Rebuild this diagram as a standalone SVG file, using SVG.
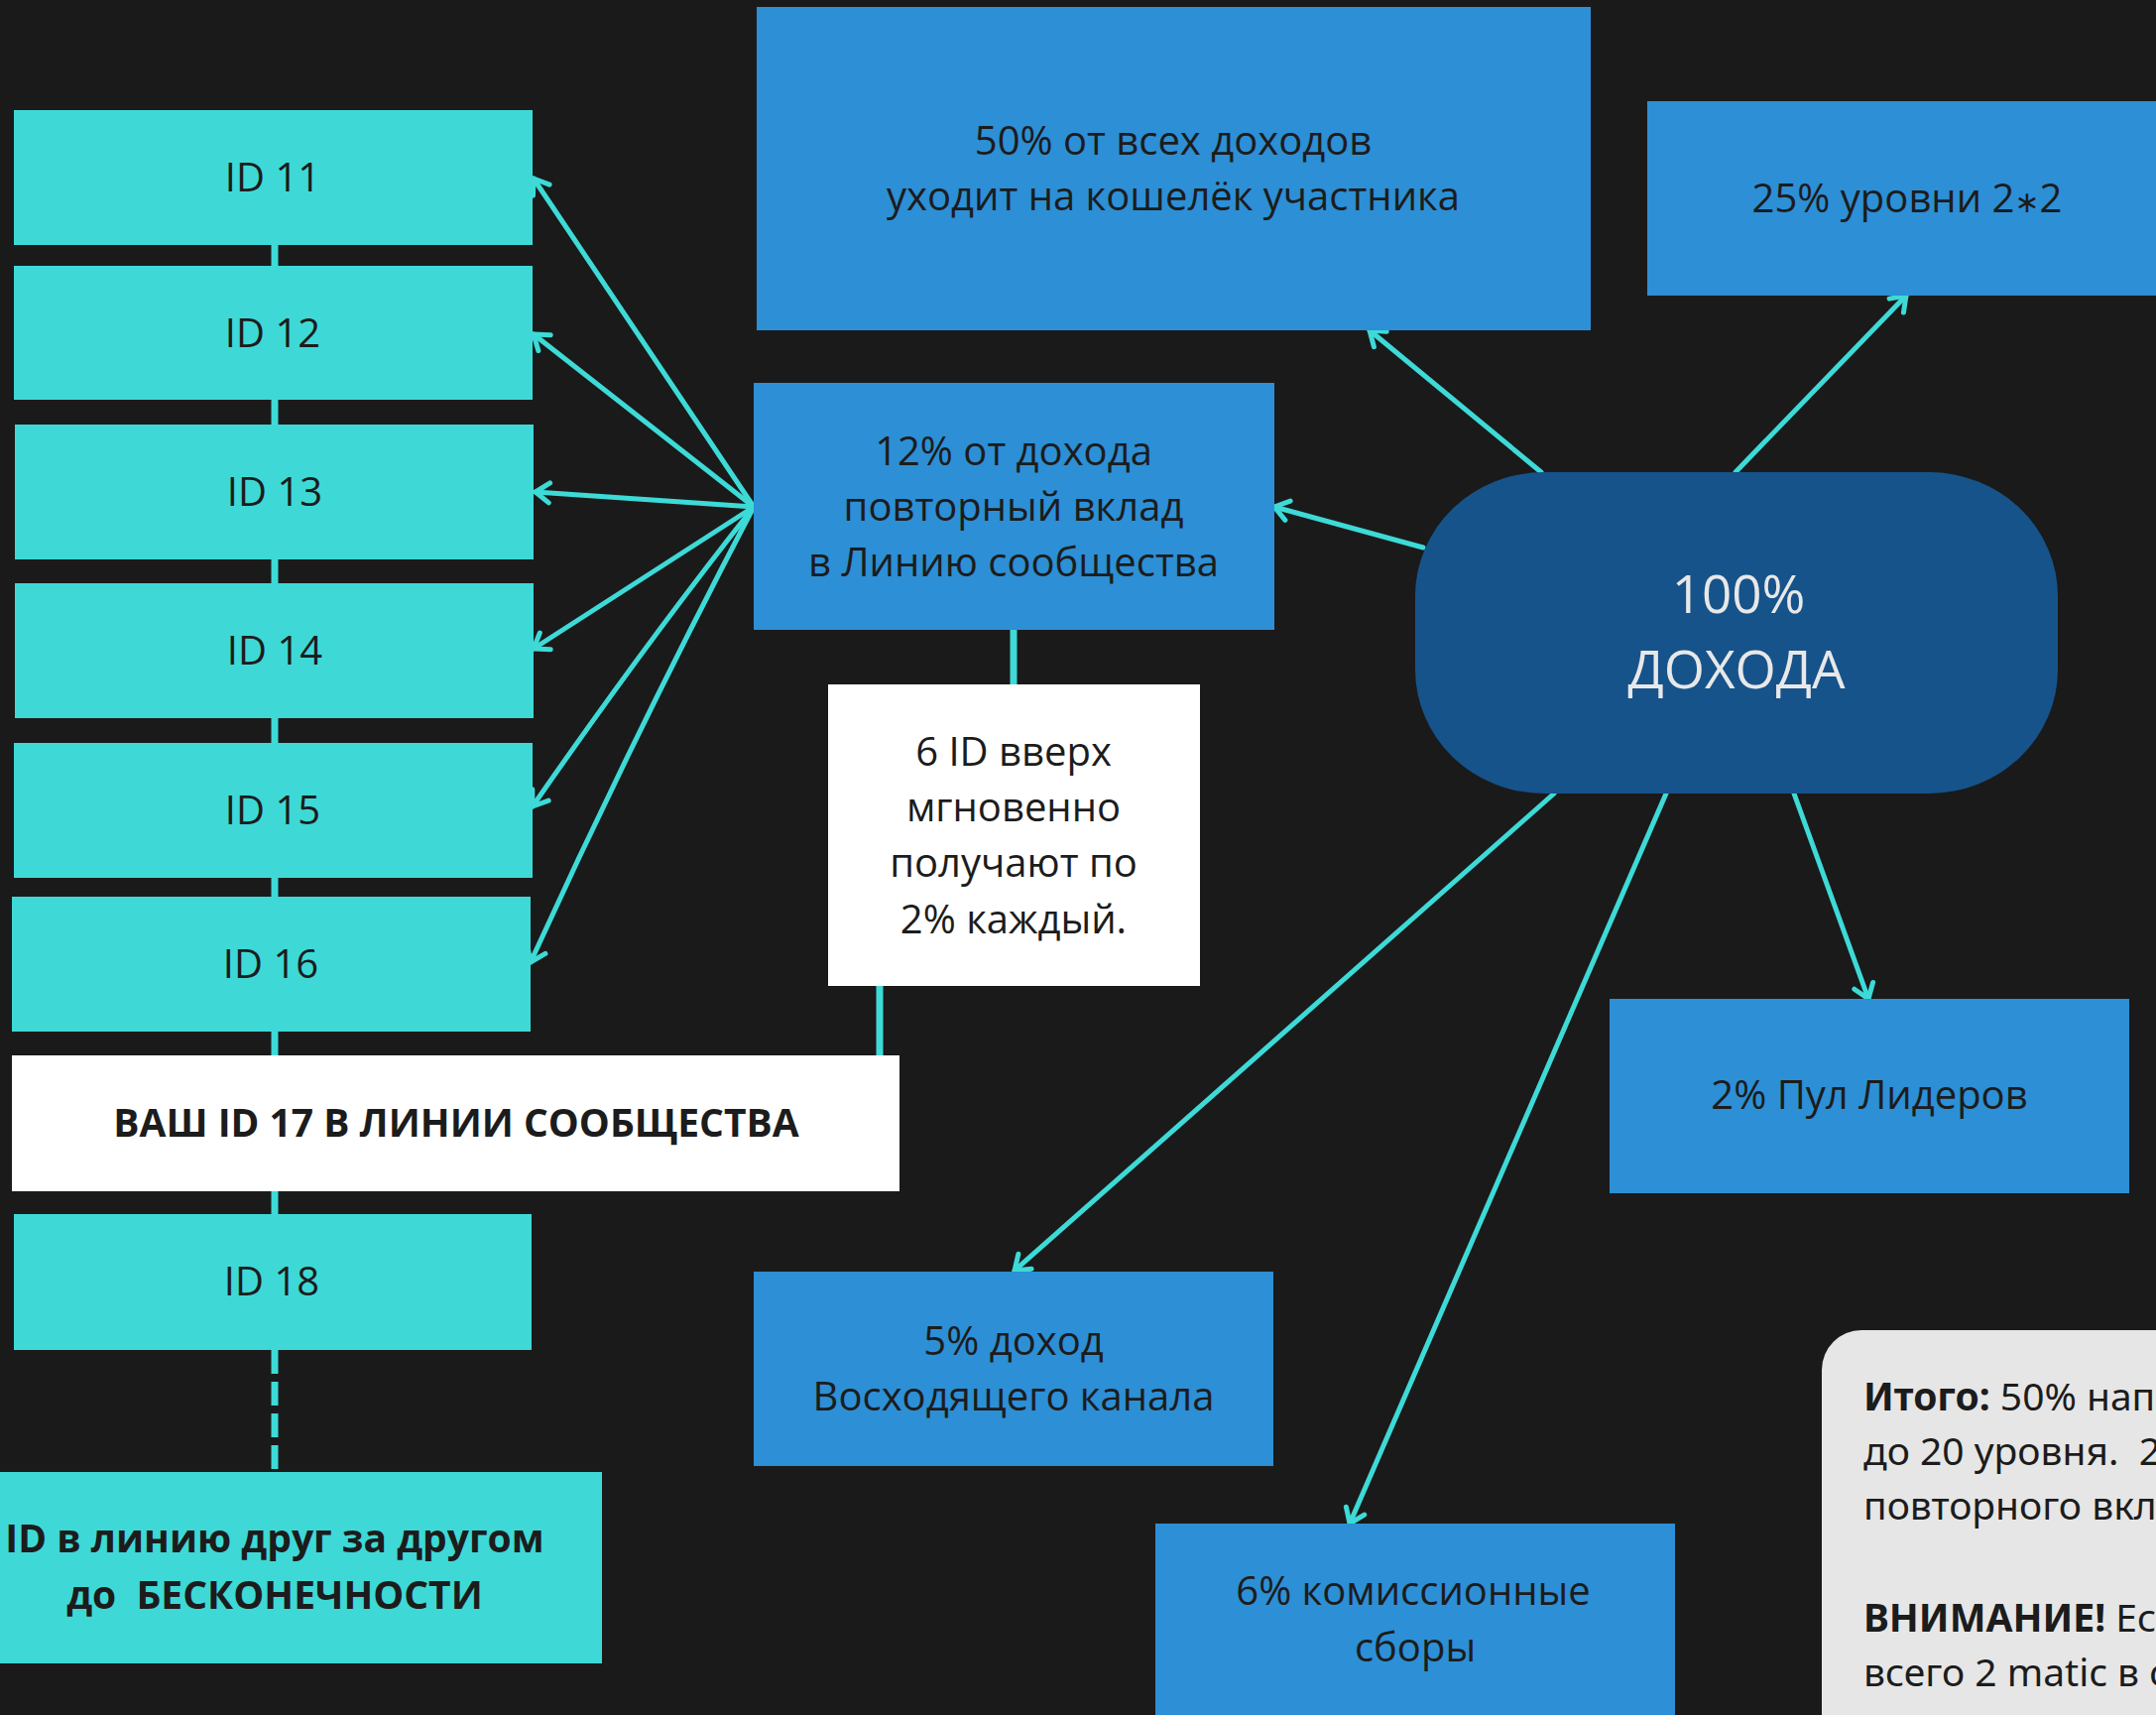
<svg xmlns="http://www.w3.org/2000/svg" width="2174" height="1729" viewBox="0 0 2174 1729">
<style>
.bg{fill:#1a1a1a}
.cy{fill:#3ed9d6}
.bl{fill:#2d8fd5}
.wh{fill:#ffffff}
.dk{fill:#16538a}
.gr{fill:#e6e6e6}
.t{font-family:"Open Sans","Noto Sans","DejaVu Sans",sans-serif;font-size:40px;fill:#1c1c1c;text-anchor:middle}
.tb{font-weight:bold;font-size:39px}
.big{font-size:53px;fill:#e8e8e8}
.note{font-family:"Noto Sans","Open Sans",sans-serif;font-size:39px;fill:#1c1c1c}
.ln{stroke:#3ddad7;stroke-width:7;fill:none}
.ar{stroke:#3ddad7;stroke-width:5;fill:none;stroke-linecap:round;marker-end:url(#ah)}
</style>
<defs>
<marker id="ah" markerUnits="userSpaceOnUse" viewBox="-20 -15 25 30" markerWidth="25" markerHeight="30" refX="0" refY="0" orient="auto">
<path d="M-14,-10 L0,0 L-14,10" fill="none" stroke="#3ddad7" stroke-width="5" stroke-linecap="round" stroke-linejoin="round"/>
</marker>
</defs>
<rect class="bg" x="0" y="0" width="2174" height="1729"/>

<g id="connectors">
<line class="ln" x1="277" y1="240" x2="277" y2="1230"/>
<line class="ln" x1="277" y1="1361" x2="277" y2="1484" stroke-dasharray="24 8"/>
<line class="ln" x1="1022" y1="630" x2="1022" y2="694"/>
<line class="ln" x1="887" y1="990" x2="887" y2="1066"/>
<path class="ar" d="M760,511 L538,180"/>
<path class="ar" d="M760,511 L538,337"/>
<path class="ar" d="M760,511 L540,496"/>
<path class="ar" d="M760,511 L538,654"/>
<path class="ar" d="M760,511 Q650,650 537,813"/>
<path class="ar" d="M760,511 Q640,740 535,970"/>
<path class="ar" d="M1435,552 L1285,511"/>
<path class="ar" d="M1554,476 L1381,333"/>
<path class="ar" d="M1750,476 L1922,298"/>
<path class="ar" d="M1567,800 L1023,1281"/>
<path class="ar" d="M1680,800 L1361,1536"/>
<path class="ar" d="M1809,800 L1884,1007"/>
</g>

<g id="id11"><rect class="cy" x="14" y="111" width="523" height="136"/><text class="t" x="275" y="193">ID 11</text></g>
<g id="id12"><rect class="cy" x="14" y="268" width="523" height="135"/><text class="t" x="275" y="350">ID 12</text></g>
<g id="id13"><rect class="cy" x="15" y="428" width="523" height="136"/><text class="t" x="277" y="510">ID 13</text></g>
<g id="id14"><rect class="cy" x="15" y="588" width="523" height="136"/><text class="t" x="277" y="670">ID 14</text></g>
<g id="id15"><rect class="cy" x="14" y="749" width="523" height="136"/><text class="t" x="275" y="831">ID 15</text></g>
<g id="id16"><rect class="cy" x="12" y="904" width="523" height="136"/><text class="t" x="273" y="986">ID 16</text></g>
<g id="id17"><rect class="wh" x="12" y="1064" width="895" height="137"/><text class="t tb" x="460" y="1146">ВАШ ID 17 В ЛИНИИ СООБЩЕСТВА</text></g>
<g id="id18"><rect class="cy" x="14" y="1224" width="522" height="137"/><text class="t" x="274" y="1306">ID 18</text></g>
<g id="infinity"><rect class="cy" x="0" y="1484" width="607" height="193"/>
<text class="t tb" x="277" y="1565">ID в линию друг за другом</text>
<text class="t tb" x="277" y="1622" xml:space="preserve">до  БЕСКОНЕЧНОСТИ</text></g>

<g id="n50"><rect class="bl" x="763" y="7" width="841" height="326"/>
<text class="t" x="1183" y="156">50% от всех доходов</text>
<text class="t" x="1183" y="212">уходит на кошелёк участника</text></g>
<g id="n25"><rect class="bl" x="1661" y="102" width="530" height="196"/>
<text class="t" x="1923" y="214">25% уровни 2<tspan font-size="30">∗</tspan>2</text></g>
<g id="n12"><rect class="bl" x="760" y="386" width="525" height="249"/>
<text class="t" x="1022" y="469">12% от дохода</text>
<text class="t" x="1022" y="525">повторный вклад</text>
<text class="t" x="1022" y="581">в Линию сообщества</text></g>
<g id="n6id"><rect class="wh" x="835" y="690" width="375" height="304"/>
<text class="t" x="1022" y="772">6 ID вверх</text>
<text class="t" x="1022" y="828">мгновенно</text>
<text class="t" x="1022" y="884">получают по</text>
<text class="t" x="1022" y="941">2% каждый.</text></g>
<g id="n100"><rect class="dk" x="1427" y="476" width="648" height="324" rx="130" ry="125"/>
<text class="t big" x="1753" y="618">100%</text>
<text class="t big" x="1751" y="694">ДОХОДА</text></g>
<g id="n2"><rect class="bl" x="1623" y="1007" width="524" height="196"/>
<text class="t" x="1885" y="1118">2% Пул Лидеров</text></g>
<g id="n5"><rect class="bl" x="760" y="1282" width="524" height="196"/>
<text class="t" x="1022" y="1366">5% доход</text>
<text class="t" x="1022" y="1422">Восходящего канала</text></g>
<g id="n6"><rect class="bl" x="1165" y="1536" width="524" height="220"/>
<text class="t" x="1425" y="1618">6% комиссионные</text>
<text class="t" x="1427" y="1675">сборы</text></g>
<g id="note"><rect class="gr" x="1837" y="1341" width="420" height="460" rx="40"/>
<text class="note" x="1879" y="1422"><tspan font-weight="bold">Итого:</tspan> 50% нап</text>
<text class="note" x="1879" y="1477" xml:space="preserve">до 20 уровня.  2</text>
<text class="note" x="1879" y="1532">повторного вкл</text>
<text class="note" x="1879" y="1645"><tspan font-weight="bold">ВНИМАНИЕ!</tspan> Ес</text>
<text class="note" x="1879" y="1700">всего 2 matic в с</text></g>
</svg>
